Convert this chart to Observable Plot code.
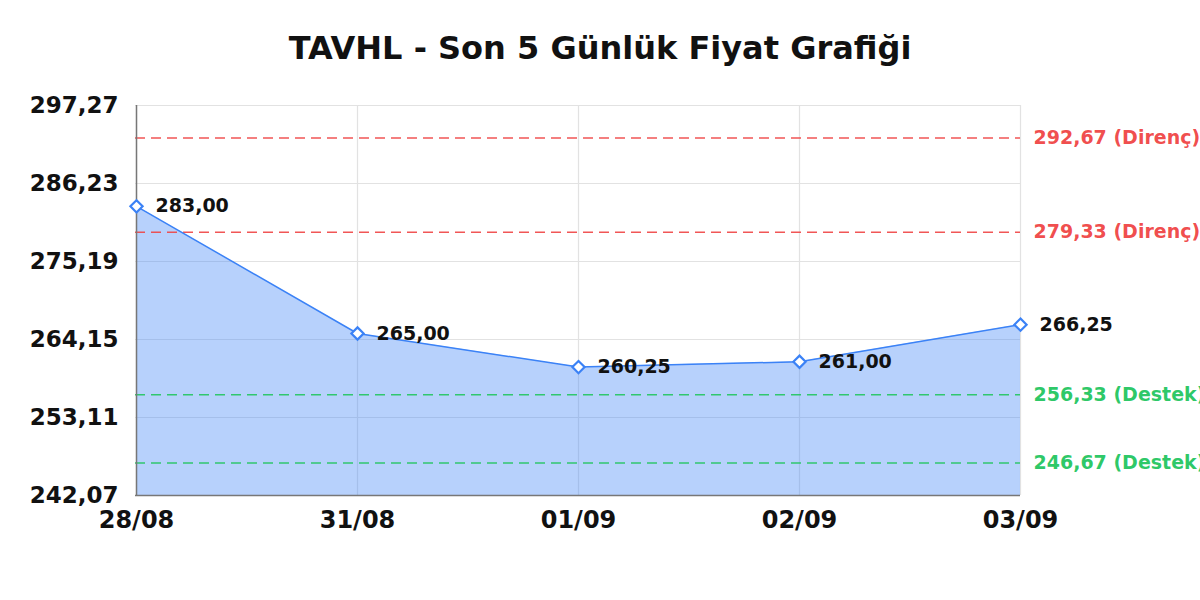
<!DOCTYPE html>
<html><head><meta charset="utf-8">
<script src="https://cdn.jsdelivr.net/npm/d3@7"></script>
<script src="https://cdn.jsdelivr.net/npm/@observablehq/plot@0.6"></script>
<style>
body{margin:0;background:#fff;font-family:"DejaVu Sans",sans-serif;overflow:hidden;width:1200px;height:600px}
#title{height:50px;padding-top:30px;line-height:36px;text-align:center;font-size:32px;font-weight:bold;color:#111}
#chart svg{display:block;overflow:visible}
</style></head><body>
<div id="title">TAVHL - Son 5 Günlük Fiyat Grafiği</div>
<div id="chart"></div>
<script>
const dates = ["28/08","31/08","01/09","02/09","03/09"];
const prices = [283.00, 265.00, 260.25, 261.00, 266.25];
const yTicks = [242.07, 253.11, 264.15, 275.19, 286.23, 297.27];
const resistance = [292.67, 279.33];
const support = [256.33, 246.67];
const resistanceLabel = "Direnç";
const supportLabel = "Destek";

const fmt = v => v.toFixed(2).replace(".", ",");
const data = dates.map((d, i) => ({date: d, price: prices[i]}));
const yMin = yTicks[0], yMax = yTicks[yTicks.length - 1];
const lastDate = dates[dates.length - 1];
const levels = [
  ...resistance.map(v => ({v, label: `${fmt(v)} (${resistanceLabel})`, color: "#ef4444"})),
  ...support.map(v => ({v, label: `${fmt(v)} (${supportLabel})`, color: "#22c55e"}))
];
const blue = "#3b82f6";

const chart = Plot.plot({
  width: 1200,
  height: 520,
  marginTop: 25,
  marginBottom: 105,
  marginLeft: 135,
  marginRight: 180,
  style: {fontFamily: "DejaVu Sans", background: "white", color: "black"},
  x: {type: "point", domain: dates, padding: 0},
  y: {domain: [yMin, yMax]},
  marks: [
    Plot.gridY(yTicks, {stroke: "#e2e2e2", strokeOpacity: 1, strokeWidth: 1.2}),
    Plot.gridX(dates, {stroke: "#e2e2e2", strokeOpacity: 1, strokeWidth: 1.2}),
    Plot.areaY(data, {x: "date", y1: yMin, y2: "price", fill: blue, fillOpacity: 0.37, curve: "linear"}),
    Plot.ruleY(levels, {y: "v", stroke: "color", strokeWidth: 1.5, strokeDasharray: "10,6", strokeOpacity: 0.9}),
    Plot.text(levels, {x: () => lastDate, y: "v", text: "label", fill: "color", dx: 13, textAnchor: "start", fontSize: 19, fontWeight: "bold", fillOpacity: 0.95, letterSpacing: "0.5px"}),
    Plot.ruleX([dates[0]], {stroke: "#777", strokeWidth: 1.5}),
    Plot.ruleY([yMin], {stroke: "#777", strokeWidth: 1.5}),
    Plot.lineY(data, {x: "date", y: "price", stroke: blue, strokeWidth: 1.5}),
    Plot.dot(data, {x: "date", y: "price", symbol: "diamond2", r: 5.5, stroke: blue, strokeWidth: 2.2, fill: "white"}),
    Plot.text(data, {x: "date", y: "price", text: d => fmt(d.price), dx: 19, textAnchor: "start", fontSize: 19, fontWeight: "bold", fill: "#111", letterSpacing: "0.3px"}),
    Plot.axisY(yTicks, {tickSize: 0, tickPadding: 17, tickFormat: fmt, fontSize: 23, fontWeight: "bold", fill: "#111", label: null}),
    Plot.axisX(dates, {tickSize: 0, tickPadding: 15, fontSize: 24, fontWeight: "bold", fill: "#111", label: null})
  ]
});
document.getElementById("chart").appendChild(chart);
</script>
</body></html>
